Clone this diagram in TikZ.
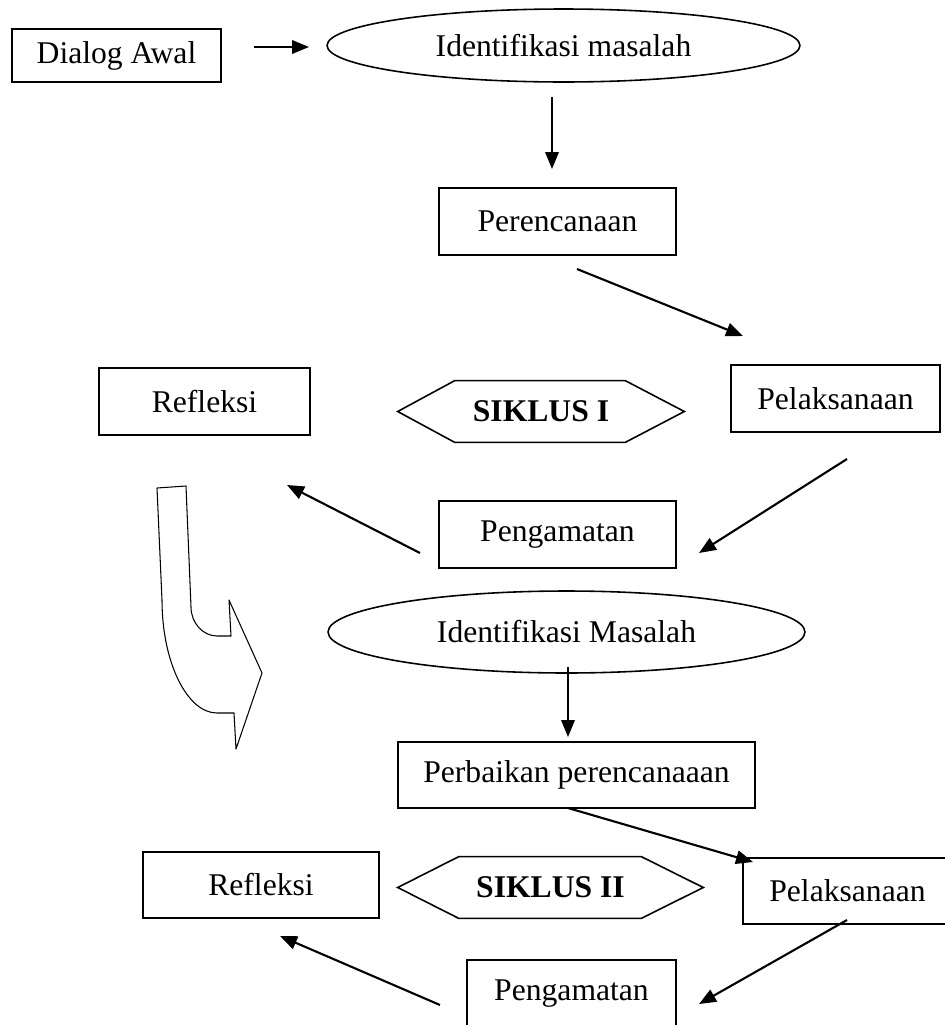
\documentclass[tikz,border=0pt]{standalone}
\usepackage{fontspec}
\setmainfont{Liberation Serif}
\usepackage{tikz}
\usetikzlibrary{arrows.meta,shapes.geometric,calc}
\tikzstyle{stepbox}=[rectangle, draw, line width=0.9pt, minimum height=1.34cm, inner sep=0pt, font=\fontsize{18}{22}\selectfont]
\tikzstyle{issuebox}=[ellipse, draw, line width=0.9pt, inner sep=0pt, font=\fontsize{18}{22}\selectfont]
\tikzstyle{cyclelabel}=[rectangle, inner sep=0pt, minimum height=1.22cm, font=\fontsize{18}{22}\selectfont\bfseries]
\tikzstyle{hexline}=[draw, line width=0.9pt]
\tikzstyle{flowarrow}=[-{Triangle[length=0.34cm,width=0.27cm]}, line width=1.2pt]
\tikzstyle{bendarrow}=[draw, line width=0.6pt, line join=round]

\begin{document}
\begin{tikzpicture}[x=0.02cm, y=-0.02cm]
    \useasboundingbox (0,0) rectangle (945,1025);

    % Awal
    \node[stepbox, minimum width=4.18cm, minimum height=1.06cm] (dlg) at (116.5,55.5) {\raisebox{-0.1cm}{Dialog Awal}};
    \node[issuebox, minimum width=9.46cm, minimum height=1.46cm] (id1) at (563.5,45.5) {Identifikasi masalah};
    \node[stepbox, minimum width=4.74cm] (plan1) at (557.5,221.5) {Perencanaan};

    % Siklus I
    \node[stepbox, minimum width=4.22cm] (refl1) at (204.5,401.5) {Refleksi};
    \node[cyclelabel, minimum width=5.72cm] (sik1) at (541,411.5) {SIKLUS I};
    \node[stepbox, minimum width=4.18cm] (exec1) at (835.5,398.5) {Pelaksanaan};
    \node[stepbox, minimum width=4.74cm] (obs1) at (557.5,534.5) {Pengamatan};
    \draw[hexline] (sik1.west) -- ($(sik1.north west)+(57,0)$) -- ($(sik1.north east)+(-59,0)$)
      -- (sik1.east) -- ($(sik1.south east)+(-59,0)$) -- ($(sik1.south west)+(57,0)$) -- cycle;

    % Siklus II
    \node[issuebox, minimum width=9.54cm, minimum height=1.64cm] (id2) at (566.5,632) {Identifikasi Masalah};
    \node[stepbox, minimum width=7.14cm, minimum height=1.32cm] (plan2) at (576.5,775) {Perbaikan perencanaaan};
    \node[stepbox, minimum width=4.72cm, minimum height=1.32cm] (refl2) at (261,885) {Refleksi};
    \node[cyclelabel, minimum width=6.10cm] (sik2) at (550.5,887.5) {SIKLUS II};
    \node[stepbox, minimum width=4.18cm, minimum height=1.32cm] (exec2) at (847.5,891) {Pelaksanaan};
    \node[stepbox, minimum width=4.18cm] (obs2) at (571.5,993.5) {Pengamatan};
    \draw[hexline] (sik2.west) -- ($(sik2.north west)+(61,0)$) -- ($(sik2.north east)+(-62,0)$)
      -- (sik2.east) -- ($(sik2.south east)+(-62,0)$) -- ($(sik2.south west)+(61,0)$) -- cycle;

    % Ujung panah
    \coordinate (p1a) at (254,47);   \coordinate (p1b) at (309,47);
    \coordinate (p2a) at (552,97);   \coordinate (p2b) at (552,169);
    \coordinate (p3a) at (577,269);  \coordinate (p3b) at (743,336);
    \coordinate (p4a) at (847,459);  \coordinate (p4b) at (699,553);
    \coordinate (p5a) at (420,553);  \coordinate (p5b) at (287,485);
    \coordinate (p6a) at (568,667);  \coordinate (p6b) at (568,737);
    \coordinate (p7a) at (568,808);  \coordinate (p7b) at (753,862);
    \coordinate (p8a) at (847,920);  \coordinate (p8b) at (699,1004);
    \coordinate (p9a) at (440,1005); \coordinate (p9b) at (280,936);

    % Panah
    \draw[flowarrow] (p1a) -- (p1b);
    \draw[flowarrow] (p2a) -- (p2b);
    \draw[flowarrow] (p3a) -- (p3b);
    \draw[flowarrow] (p4a) -- (p4b);
    \draw[flowarrow] (p5a) -- (p5b);
    \draw[flowarrow] (p6a) -- (p6b);
    \draw[flowarrow] (p7a) -- (p7b);
    \draw[flowarrow] (p8a) -- (p8b);
    \draw[flowarrow] (p9a) -- (p9b);

    % Panah lengkung ke siklus II
    \draw[bendarrow] (157,488) -- (162,600) .. controls (162,662) and (187,713) .. (217,713)
      -- (234,713) -- (236,749) -- (262,673) -- (229,600) -- (231,636) -- (217,636)
      .. controls (203,636) and (191,623) .. (191,607) -- (186,486) -- cycle;
  \end{tikzpicture}
\end{document}
